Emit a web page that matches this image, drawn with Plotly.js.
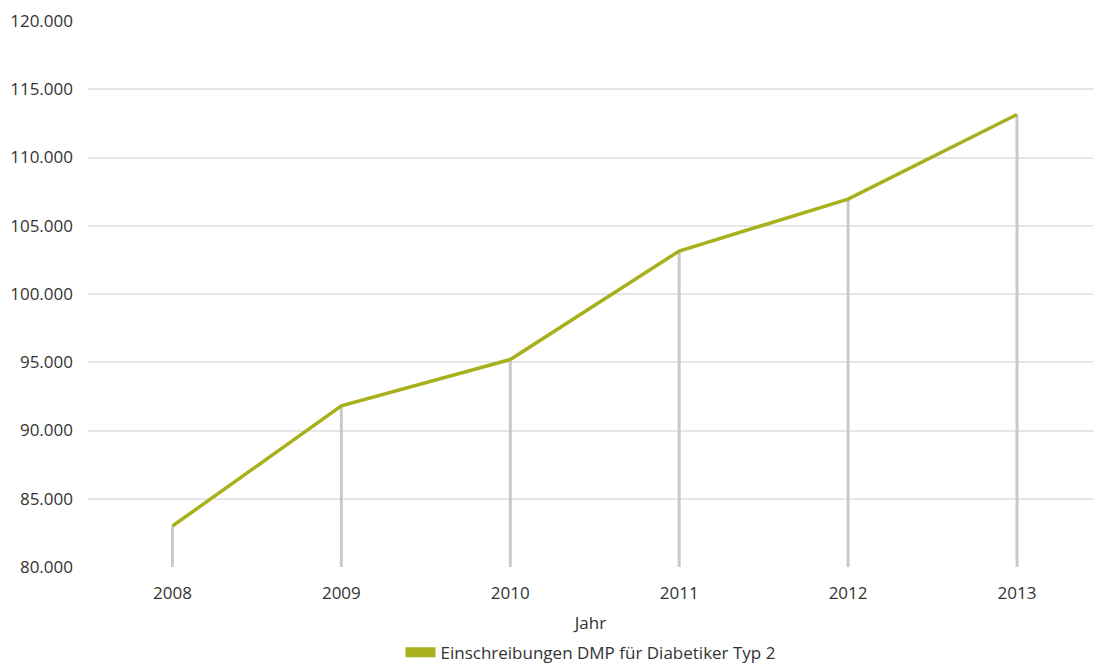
<!DOCTYPE html>
<html>
<head>
<meta charset="utf-8">
<script src="https://cdn.plot.ly/plotly-3.0.1.min.js"></script>
<style>html,body{margin:0;padding:0;background:#fff;}#chart{width:1093px;height:663px;}</style>
</head>
<body>
<div id="chart"></div>
<script>
const years = ["2008", "2009", "2010", "2011", "2012", "2013"];
const enrolments = [83000, 91800, 95200, 103150, 106950, 113150];
const seriesName = "Einschreibungen DMP für Diabetiker Typ 2";
const xTitle = "Jahr";
const yMin = 80000, yMax = 120000, yStep = 5000;

const dropX = [], dropY = [];
years.forEach((yr, i) => { dropX.push(yr, yr, null); dropY.push(yMin, enrolments[i], null); });

const font = {family: "Open Sans, Noto Sans, sans-serif", size: 17, color: "#333333"};

const traces = [
  {x: dropX, y: dropY, type: "scatter", mode: "lines", line: {color: "#c9c9c9", width: 3}, showlegend: false, hoverinfo: "skip", cliponaxis: false},
  {x: years, y: enrolments, type: "scatter", mode: "lines", line: {color: "#a8b01c", width: 3.5}, showlegend: false, name: seriesName, cliponaxis: false},
  {x: [null], y: [null], type: "scatter", mode: "lines", line: {color: "#a8b01c", width: 12}, name: seriesName, showlegend: true}
];

const layout = {
  width: 1093, height: 663,
  margin: {l: 88, r: 0, t: 21, b: 96, autoexpand: false},
  paper_bgcolor: "#ffffff", plot_bgcolor: "#ffffff",
  font: font,
  separators: ",.",
  showlegend: true,
  legend: {orientation: "h", x: 0.5, xanchor: "center", xref: "paper", yref: "paper", y: -0.124, yanchor: "top", font: font, itemwidth: 30},
  xaxis: {
    type: "category", range: [-0.5, 5.45], automargin: false,
    showgrid: false, zeroline: false, showline: false, ticks: "",
    tickfont: font, ticklabelstandoff: 14, title: {text: xTitle, font: font, standoff: 14}
  },
  yaxis: {
    range: [yMin, yMax], dtick: yStep, tick0: yMin, tickformat: ",d", automargin: false,
    showgrid: true, gridcolor: "#e6e6e6", gridwidth: 2,
    zeroline: false, showline: false, ticks: "",
    tickfont: font, ticklabelstandoff: 14
  }
};

Plotly.newPlot("chart", traces, layout, {displayModeBar: false, staticPlot: true});
</script>
</body>
</html>
